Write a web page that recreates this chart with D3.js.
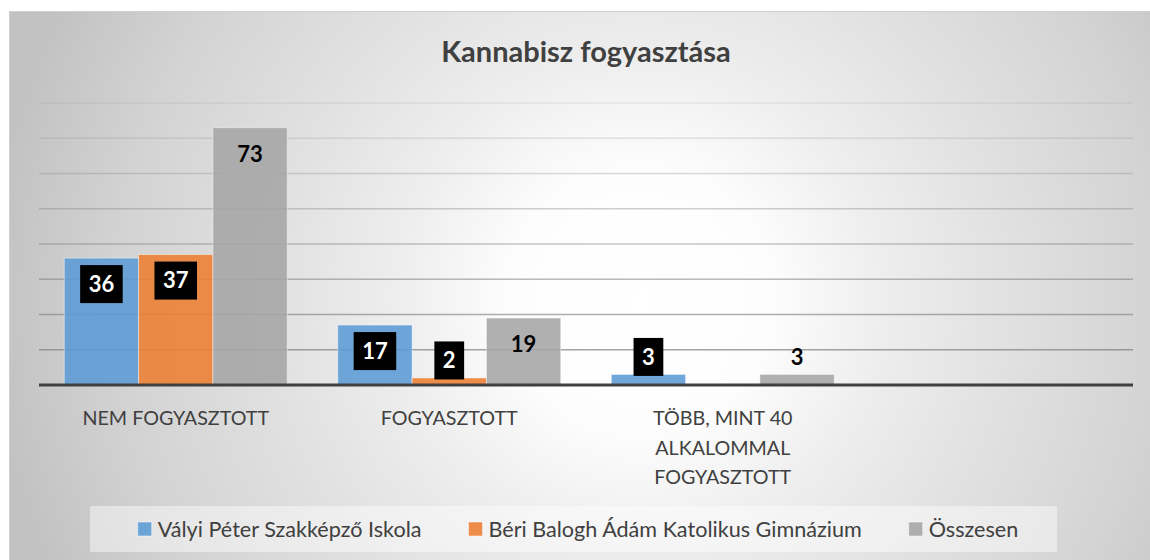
<!DOCTYPE html>
<html>
<head>
<meta charset="utf-8">
<script src="https://cdn.jsdelivr.net/npm/d3@7"></script>
<style>
  body { margin: 0; background: #fff; }
  text { font-family: Lato, "Open Sans", sans-serif; }
</style>
</head>
<body>
<svg id="chart" width="1150" height="560"></svg>
<script>
const title = "Kannabisz fogyasztása";
const categories = ["NEM FOGYASZTOTT", "FOGYASZTOTT", "TÖBB, MINT 40 ALKALOMMAL FOGYASZTOTT", ""];
const seriesNames = ["Vályi Péter Szakképző Iskola", "Béri Balogh Ádám Katolikus Gimnázium", "Összesen"];
const valyi = [36, 17, 3, null];
const beri = [37, 2, 0, null];
const osszesen = [73, 19, 3, null];
const yTicks = [0, 10, 20, 30, 40, 50, 60, 70, 80];

const colors = ["#5b9bd5", "#ed7d31", "#a5a5a5"];
const seriesValues = [valyi, beri, osszesen];

const svg = d3.select("#chart");
const plotLeft = 39, plotRight = 1133, plotTop = 103, plotBottom = 385;

// background gradient
const defs = svg.append("defs");
const grad = defs.append("radialGradient")
    .attr("id", "bg")
    .attr("gradientUnits", "userSpaceOnUse")
    .attr("cx", 640).attr("cy", 300).attr("r", 650);
[[0, "#ffffff"], [0.2, "#fdfdfd"], [0.37, "#eeeeee"], [0.55, "#e2e2e2"], [0.8, "#d3d3d3"], [1, "#c2c2c2"]]
    .forEach(s => grad.append("stop").attr("offset", s[0]).attr("stop-color", s[1]));

svg.append("rect")
    .attr("x", 9.5).attr("y", 11.5)
    .attr("width", 1160).attr("height", 560)
    .attr("fill", "url(#bg)")
    .attr("stroke", "#d0d0d0");

const x0 = d3.scaleBand().domain(d3.range(categories.length)).range([plotLeft, plotRight]);
const x1 = d3.scaleBand().domain(d3.range(seriesNames.length))
    .range([0, x0.bandwidth()]).paddingOuter(0.34);
const y = d3.scaleLinear().domain([0, 80]).range([plotBottom, plotTop]);

// gridlines, fading towards the top
svg.append("g").selectAll("line")
    .data(yTicks.filter(d => d > 0))
    .join("line")
    .attr("x1", plotLeft).attr("x2", plotRight)
    .attr("y1", d => y(d)).attr("y2", d => y(d))
    .attr("stroke", "#7f7f7f")
    .attr("stroke-width", 1.3)
    .attr("stroke-opacity", d => 0.8 - d / 80 * 0.68);

// bars
const bars = [];
seriesValues.forEach((vals, s) => {
    vals.forEach((v, c) => {
        if (v === null) return;
        bars.push({ s: s, c: c, v: v });
    });
});

svg.append("g").selectAll("rect")
    .data(bars.filter(d => d.v > 0))
    .join("rect")
    .attr("x", d => x0(d.c) + x1(d.s))
    .attr("y", d => y(d.v))
    .attr("width", x1.bandwidth())
    .attr("height", d => plotBottom - y(d.v))
    .attr("fill", d => colors[d.s])
    .attr("fill-opacity", 0.88)
    .attr("stroke", "#ffffff")
    .attr("stroke-opacity", 0.45)
    .attr("stroke-width", 1);

// axis line
svg.append("line")
    .attr("x1", plotLeft).attr("x2", plotRight)
    .attr("y1", plotBottom).attr("y2", plotBottom)
    .attr("stroke", "#404040")
    .attr("stroke-width", 3);

// data labels
const labels = svg.append("g");
bars.filter(d => d.v > 0).forEach(d => {
    const cx = x0(d.c) + x1(d.s) + x1.bandwidth() / 2;
    const h = plotBottom - y(d.v);
    const cy = h > 40 ? y(d.v) + 26 : y(d.v) - 17.5;
    const g = labels.append("g");
    const t = g.append("text")
        .attr("x", cx).attr("y", cy)
        .attr("dy", "0.36em")
        .attr("text-anchor", "middle")
        .attr("font-size", 22)
        .attr("font-weight", "bold")
        .attr("fill", d.s < 2 ? "#ffffff" : "#000000")
        .text(d.v);
    if (d.s < 2) {
        const w = t.node().getComputedTextLength() + 17;
        g.insert("rect", "text")
            .attr("x", cx - w / 2).attr("y", cy - 19)
            .attr("width", w).attr("height", 38)
            .attr("fill", "#000000");
    }
});

// category labels with word wrap
const catG = svg.append("g");
categories.forEach((c, i) => {
    if (!c) return;
    const cx = x0(i) + x0.bandwidth() / 2;
    const t = catG.append("text")
        .attr("x", cx)
        .attr("y", 425)
        .attr("text-anchor", "middle")
        .attr("font-size", 19.7)
        .attr("fill", "#404040");
    const words = c.split(" ");
    let line = [];
    let tspan = t.append("tspan").attr("x", cx).attr("dy", 0);
    words.forEach(w => {
        line.push(w);
        tspan.text(line.join(" "));
        if (tspan.node().getComputedTextLength() > 240 && line.length > 1) {
            line.pop();
            tspan.text(line.join(" "));
            line = [w];
            tspan = t.append("tspan").attr("x", cx).attr("dy", 29.5).text(w);
        }
    });
});

// title
svg.append("text")
    .attr("x", 586).attr("y", 62)
    .attr("text-anchor", "middle")
    .attr("font-size", 29)
    .attr("font-weight", "bold")
    .attr("fill", "#404040")
    .text(title);

// legend
svg.append("rect")
    .attr("x", 90).attr("y", 506)
    .attr("width", 967).attr("height", 46)
    .attr("fill", "#ffffff")
    .attr("fill-opacity", 0.45);

const legend = svg.append("g");
const legendGap = 47;
let lx = 0;
seriesNames.forEach((n, i) => {
    const item = legend.append("g").attr("transform", "translate(" + lx + ",0)");
    item.append("rect")
        .attr("x", 0).attr("y", 522)
        .attr("width", 14).attr("height", 14)
        .attr("fill", colors[i])
        .attr("fill-opacity", 0.88)
        .attr("stroke", "#ffffff").attr("stroke-opacity", 0.5);
    const t = item.append("text")
        .attr("x", 20).attr("y", 529)
        .attr("dy", "0.36em")
        .attr("font-size", 21.6)
        .attr("fill", "#404040")
        .text(n);
    lx += 20 + t.node().getComputedTextLength() + legendGap;
});
const lw = lx - legendGap;
legend.attr("transform", "translate(" + (578 - lw / 2) + ",0)");
</script>
</body>
</html>
